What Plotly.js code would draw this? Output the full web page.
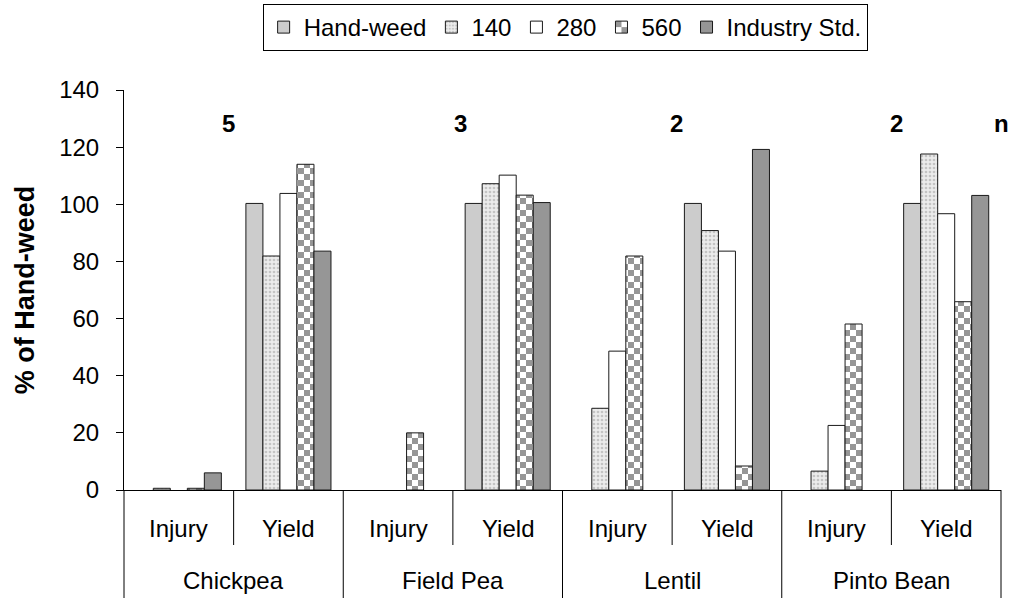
<!DOCTYPE html>
<html>
<head>
<meta charset="utf-8">
<script src="https://cdn.plot.ly/plotly-3.0.1.min.js"></script>
<style>html,body{margin:0;padding:0;background:#fff;}#chart{width:1010px;height:598px;}</style>
</head>
<body>
<div id="chart"></div>
<script>
// ---- data ----
var crops = ['Chickpea', 'Field Pea', 'Lentil', 'Pinto Bean'];
var measures = ['Injury', 'Yield'];
var nLabels = ['5', '3', '2', '2'];
var seriesNames = ['Hand-weed', '140', '280', '560', 'Industry Std.'];
// null = no bar shown
var handWeed = [null, 100.3, null, 100.3, null, 100.3, null, 100.3];
var rate140  = [0.6, 81.9, null, 107.2, 28.6, 90.8, 6.6, 117.6];
var rate280  = [null, 103.8, null, 110.2, 48.6, 83.6, 22.6, 96.7];
var rate560  = [0.6, 114.0, 20.0, 103.2, 81.9, 8.4, 58.1, 65.9];
var industry = [6.0, 83.6, null, 100.6, null, 119.2, null, 103.1];
var yTicks = [0, 20, 40, 60, 80, 100, 120, 140];

// ---- build ----
var cats = [];
crops.forEach(function (c) { measures.forEach(function (m) { cats.push(c + ' ' + m); }); });

var FONT = 'Liberation Sans, Arial, sans-serif';
var edge = '#1a1a1a';
var values = [handWeed, rate140, rate280, rate560, industry];
var markers = [
  {color: '#cccccc'},
  {color: '#e4e4e4', pattern: {shape: '.', bgcolor: '#ececec', fgcolor: '#c4c4c4', size: 4, solidity: 0.35}},
  {color: '#ffffff'},
  {color: '#ffffff', pattern: {shape: 'x', bgcolor: '#ffffff', fgcolor: '#979797', size: 12, solidity: 0.3}},
  {color: '#969696'}
];
var data = values.map(function (v, i) {
  var mk = markers[i];
  mk.line = {color: edge, width: 1};
  return {type: 'bar', name: seriesNames[i], x: cats, y: v, marker: mk, hoverinfo: 'skip'};
});

var shapes = [];
var annotations = [];
// dividers
for (var b = 0; b <= cats.length; b++) {
  var isCropEdge = (b % measures.length === 0);
  var s = {type: 'line', yref: 'paper', y0: 0, y1: isCropEdge ? -0.3 : -0.1375,
           line: {color: '#000', width: 1}};
  if (b === 0) { s.xref = 'x domain'; s.x0 = s.x1 = 0; }
  else if (b === cats.length) { s.xref = 'x domain'; s.x0 = s.x1 = 1; }
  else { s.xref = 'x'; s.x0 = s.x1 = b - 0.5; }
  shapes.push(s);
}
// labels
cats.forEach(function (c, i) {
  annotations.push({xref: 'x', yref: 'paper', x: i, y: -0.095, text: measures[i % measures.length],
    showarrow: false, yanchor: 'middle', font: {family: FONT, size: 24, color: '#000'}});
});
var nShift = [-5, 8, 4, 5];
crops.forEach(function (c, i) {
  var center = i * measures.length + (measures.length - 1) / 2;
  annotations.push({xref: 'x', yref: 'paper', x: center, y: -0.225, text: c,
    showarrow: false, yanchor: 'middle', font: {family: FONT, size: 24, color: '#000'}});
  annotations.push({xref: 'x', yref: 'paper', x: center, y: 0.915, text: '<b>' + nLabels[i] + '</b>',
    showarrow: false, yanchor: 'middle', xshift: nShift[i], font: {family: FONT, size: 24, color: '#000'}});
});
annotations.push({xref: 'x', yref: 'paper', x: cats.length - 0.5, y: 0.915, text: '<b>n</b>',
  showarrow: false, yanchor: 'middle', xshift: 0, font: {family: FONT, size: 24, color: '#000'}});

var layout = {
  width: 1010, height: 598,
  margin: {l: 124, r: 9, t: 90, b: 108, pad: 0, autoexpand: false},
  paper_bgcolor: '#ffffff', plot_bgcolor: '#ffffff',
  font: {family: FONT, size: 24, color: '#000'},
  barmode: 'group', bargap: 0.224, bargroupgap: 0,
  showlegend: true,
  legend: {orientation: 'h', x: 0.503, xanchor: 'center', y: 1.215, yanchor: 'top',
           bordercolor: '#000', borderwidth: 1, font: {family: FONT, size: 24, color: '#000'},
           traceorder: 'normal'},
  xaxis: {type: 'category', range: [-0.5, cats.length - 0.5], autorange: false,
          showticklabels: false, ticks: '', showline: true, linecolor: '#000',
          linewidth: 1, showgrid: false, zeroline: false, fixedrange: true, automargin: false},
  yaxis: {range: [0, 140], autorange: false, tickvals: yTicks, ticks: 'outside', ticklen: 7, tickcolor: '#000',
          showline: true, linecolor: '#000', linewidth: 1, showgrid: false, zeroline: false,
          ticklabelstandoff: 12, tickfont: {family: FONT, size: 24, color: '#000'},
          title: {text: '<b>% of Hand-weed</b>', font: {family: FONT, size: 27, color: '#000'}, standoff: 16},
          fixedrange: true, automargin: false},
  shapes: shapes,
  annotations: annotations
};

function checkerize(gd) {
  var NS = 'http://www.w3.org/2000/svg';
  var ids = {};
  var grab = function (el) {
    if (!el) return;
    var f = el.style.fill || el.getAttribute('fill') || '';
    var m = /url\(["']?#([^"')]+)/.exec(f);
    if (m) ids[m[1]] = true;
  };
  var barTraces = gd.querySelectorAll('.barlayer .trace');
  if (barTraces[3]) Array.prototype.forEach.call(barTraces[3].querySelectorAll('path'), grab);
  var legTraces = gd.querySelectorAll('.legend .traces');
  if (legTraces[3]) Array.prototype.forEach.call(legTraces[3].querySelectorAll('path'), grab);
  Object.keys(ids).forEach(function (id) {
    var p = document.getElementById(id);
    if (!p) return;
    var sq = 6;
    while (p.firstChild) p.removeChild(p.firstChild);
    p.setAttribute('width', 2 * sq); p.setAttribute('height', 2 * sq);
    p.removeAttribute('patternTransform');
    [[0, 0, '#969696'], [sq, 0, '#ffffff'], [0, sq, '#ffffff'], [sq, sq, '#969696']].forEach(function (r) {
      var rect = document.createElementNS(NS, 'rect');
      rect.setAttribute('x', r[0]); rect.setAttribute('y', r[1]);
      rect.setAttribute('width', sq); rect.setAttribute('height', sq);
      rect.setAttribute('fill', r[2]);
      p.appendChild(rect);
    });
  });
}

Plotly.newPlot('chart', data, layout, {displayModeBar: false, staticPlot: true}).then(checkerize);
</script>
</body>
</html>
